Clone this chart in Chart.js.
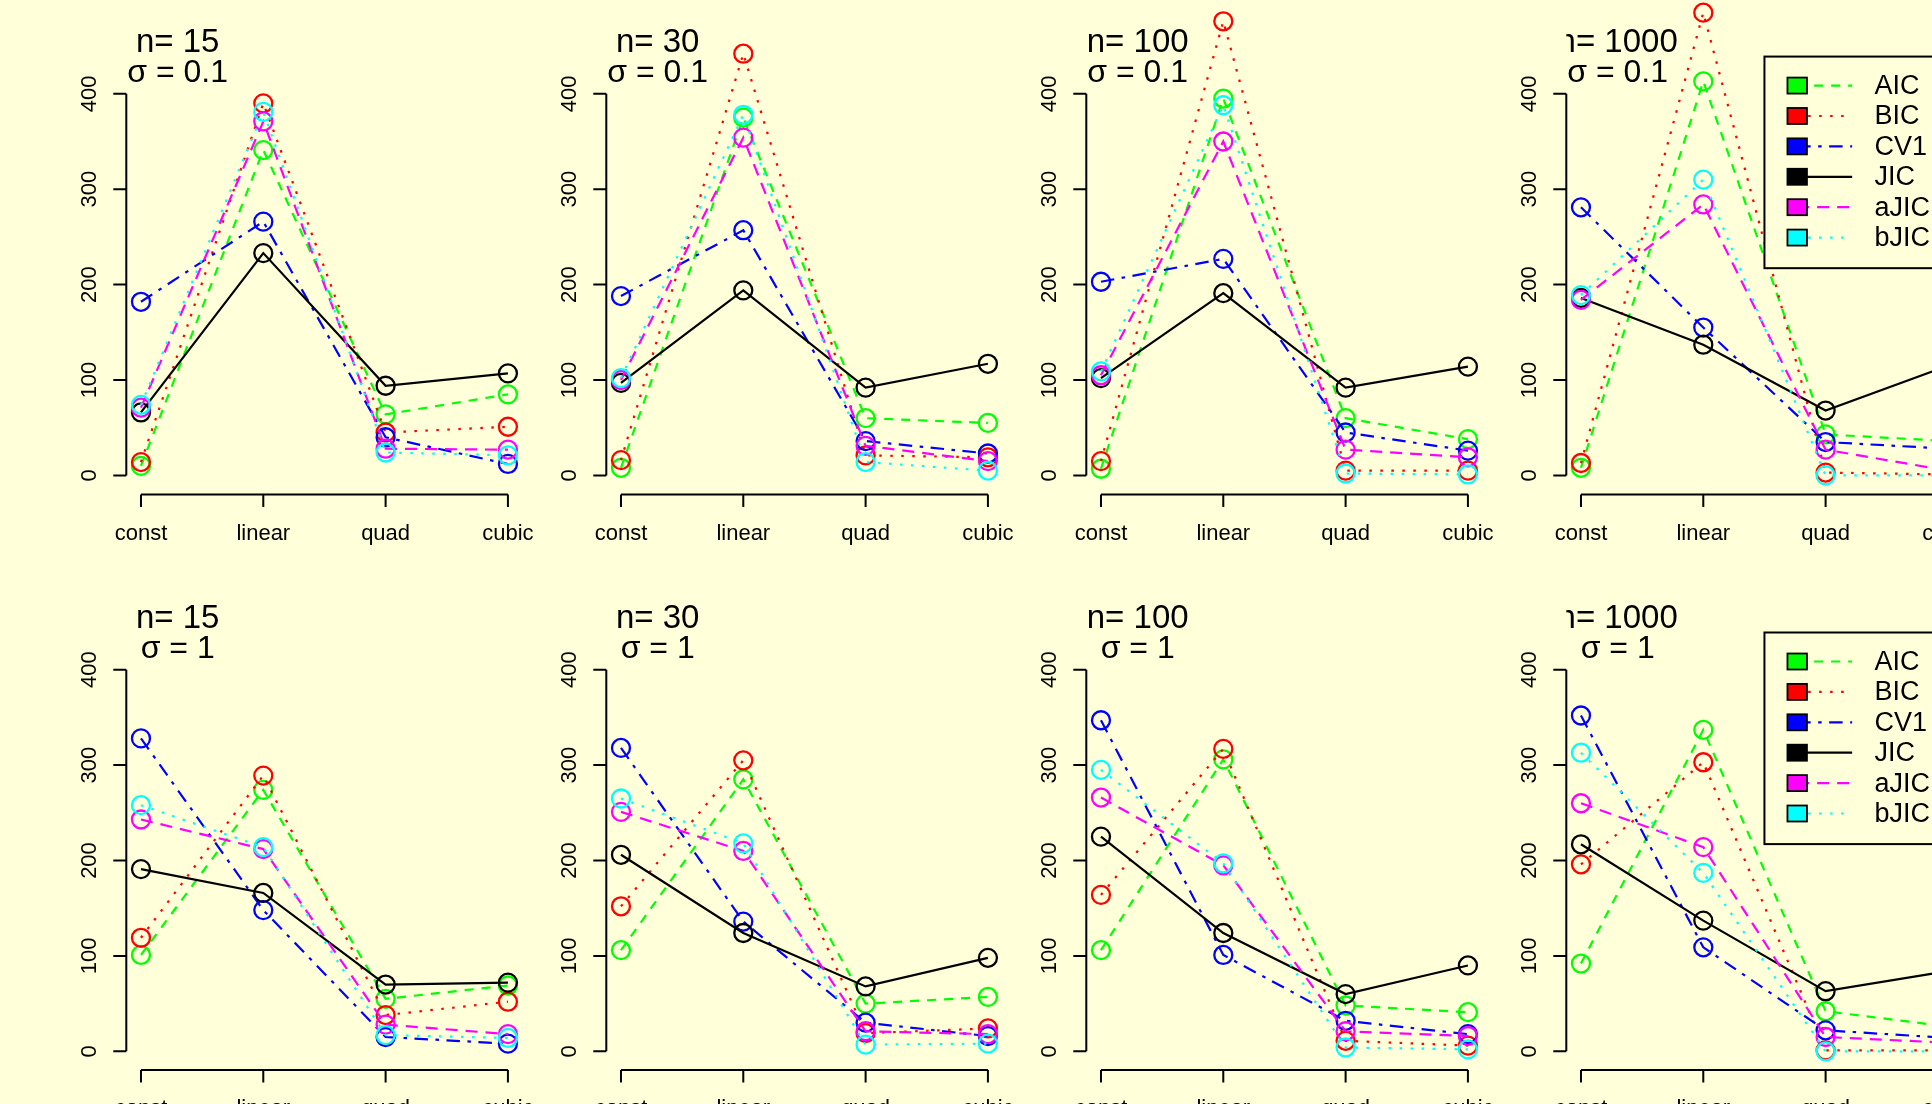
<!DOCTYPE html>
<html>
<head>
<meta charset="utf-8">
<script src="https://cdn.jsdelivr.net/npm/chart.js@4/dist/chart.umd.min.js"></script>
<style>
  body { margin: 0; width: 1932px; height: 1104px; overflow: hidden; background: #FFFFD9; position: relative; }
  canvas { position: absolute; }
</style>
</head>
<body>
<script>
const CATEGORIES = ['const', 'linear', 'quad', 'cubic'];
const METHODS = ['AIC', 'BIC', 'CV1', 'JIC', 'aJIC', 'bJIC'];
const N_VALUES = [15, 30, 100, 1000];
const SIGMAS = ['0.1', '1'];
const Y_TICKS = [0, 100, 200, 300, 400];

// one row per method (AIC, BIC, CV1, JIC, aJIC, bJIC), columns = const, linear, quad, cubic
const sig01_n15 = [
  [10, 341, 64, 85],
  [14, 390, 45, 51],
  [182, 266, 40, 12],
  [66, 233, 94, 107],
  [71, 371, 28, 27],
  [74, 381, 24, 21]
];
const sig01_n30 = [
  [8, 375, 60, 55],
  [16, 442, 21, 19],
  [188, 257, 36, 23],
  [97, 194, 92, 117],
  [100, 354, 31, 15],
  [102, 378, 14, 5]
];
const sig01_n100 = [
  [7, 395, 60, 38],
  [15, 476, 5, 5],
  [203, 227, 45, 26],
  [102, 191, 92, 114],
  [105, 350, 27, 19],
  [109, 388, 2, 1]
];
const sig01_n1000 = [
  [8, 413, 43, 36],
  [13, 485, 3, 1],
  [281, 155, 35, 28],
  [186, 137, 68, 115],
  [184, 284, 27, 5],
  [189, 310, 0, 0]
];
const sig1_n15 = [
  [101, 274, 55, 69],
  [119, 289, 38, 52],
  [328, 148, 15, 8],
  [191, 166, 70, 72],
  [243, 212, 28, 18],
  [258, 214, 17, 14]
];
const sig1_n30 = [
  [106, 285, 50, 57],
  [152, 305, 19, 24],
  [318, 136, 30, 16],
  [206, 124, 68, 98],
  [251, 210, 21, 18],
  [265, 218, 7, 8]
];
const sig1_n100 = [
  [106, 306, 48, 41],
  [164, 317, 11, 6],
  [347, 101, 32, 18],
  [225, 124, 60, 90],
  [266, 195, 21, 16],
  [295, 197, 4, 2]
];
const sig1_n1000 = [
  [92, 337, 42, 26],
  [196, 303, 1, 1],
  [352, 109, 22, 14],
  [217, 137, 63, 84],
  [260, 214, 15, 9],
  [313, 187, 0, 0]
];

const PANELS = [
  [sig01_n15, sig01_n30, sig01_n100, sig01_n1000],
  [sig1_n15, sig1_n30, sig1_n100, sig1_n1000]
];

// styles
const BG = '#FFFFD9';
const FONT = '"Liberation Sans", Arial, Helvetica, sans-serif';
const COLORS = ['#00ff00', '#ff0000', '#0000ff', '#000000', '#ff00ff', '#00ffff'];
const DASHES = [[9, 8], [2.5, 8.5], [13.5, 7.5, 3.5, 7.5], [], [12, 8], [2.5, 8.5]];

// layout of the two rows (canvas top, y range, room under the plot region)
const ROWS = [
  { top: 0, ymin: -20.1, ymax: 498.3, padBottom: 65.4 },
  { top: 560, ymin: -19.7, ymax: 515.0, padBottom: 49.9 }
];
const COL_W = 480;
const CANVAS_W = 560, CANVAS_H = 560;

// R-like axes, panel titles and legend
const rPanel = {
  id: 'rPanel',
  beforeDatasetsDraw(chart, args, o) {
    const { ctx, chartArea: a, scales: { x, y } } = chart;
    ctx.save();
    ctx.strokeStyle = '#000';
    ctx.lineWidth = 2;
    ctx.beginPath();
    ctx.moveTo(a.left, y.getPixelForValue(Y_TICKS[0]));
    ctx.lineTo(a.left, y.getPixelForValue(Y_TICKS[Y_TICKS.length - 1]));
    Y_TICKS.forEach(t => {
      const py = y.getPixelForValue(t);
      ctx.moveTo(a.left, py);
      ctx.lineTo(a.left - 13, py);
    });
    ctx.moveTo(x.getPixelForValue(1), a.bottom);
    ctx.lineTo(x.getPixelForValue(CATEGORIES.length), a.bottom);
    CATEGORIES.forEach((c, i) => {
      const px = x.getPixelForValue(i + 1);
      ctx.moveTo(px, a.bottom);
      ctx.lineTo(px, a.bottom + 12.5);
    });
    ctx.stroke();

    ctx.fillStyle = '#000';
    ctx.font = '22px ' + FONT;
    ctx.textAlign = 'center';
    ctx.textBaseline = 'alphabetic';
    CATEGORIES.forEach((c, i) => ctx.fillText(c, x.getPixelForValue(i + 1), a.bottom + 45));
    ctx.font = '22px ' + FONT;
    Y_TICKS.forEach(t => {
      ctx.save();
      ctx.translate(a.left - 30.5, y.getPixelForValue(t));
      ctx.rotate(-Math.PI / 2);
      ctx.fillText(String(t), 0, 0);
      ctx.restore();
    });

    // text inside the plot region is clipped to it, like in R
    ctx.beginPath();
    ctx.rect(a.left, a.top, a.right - a.left, a.bottom - a.top);
    ctx.clip();
    ctx.font = '33px ' + FONT;
    ctx.fillText('n= ' + o.n, x.getPixelForValue(1.3), y.getPixelForValue(444));
    ctx.font = '32px ' + FONT;
    ctx.fillText('\u03c3 = ' + o.sigma, x.getPixelForValue(1.3), y.getPixelForValue(412));
    ctx.restore();
  },
  afterDatasetsDraw(chart, args, o) {
    if (!o.legend) return;
    const { ctx, chartArea: a, scales: { x, y } } = chart;
    const left = x.getPixelForValue(2.5);
    const top = y.getPixelForValue(439);
    const w = a.right - left, h = 211.6;
    ctx.save();
    ctx.fillStyle = BG;
    ctx.fillRect(left, top, w, h);
    ctx.strokeStyle = '#000';
    ctx.lineWidth = 2;
    ctx.strokeRect(left, top, w, h);
    METHODS.forEach((m, k) => {
      const cy = top + 29 + k * 30.4;
      ctx.strokeStyle = COLORS[k];
      ctx.lineWidth = 2.2;
      ctx.setLineDash(DASHES[k]);
      ctx.beginPath();
      ctx.moveTo(left + 32.7, cy);
      ctx.lineTo(left + 87.7, cy);
      ctx.stroke();
      ctx.setLineDash([]);
      ctx.fillStyle = COLORS[k];
      ctx.fillRect(left + 23, cy - 8, 19.5, 16);
      ctx.strokeStyle = '#000';
      ctx.lineWidth = 1.8;
      ctx.strokeRect(left + 23, cy - 8, 19.5, 16);
      ctx.fillStyle = '#000';
      ctx.font = '27px ' + FONT;
      ctx.textAlign = 'left';
      ctx.textBaseline = 'middle';
      ctx.fillText(m, left + 110, cy + 1);
    });
    ctx.restore();
  }
};

PANELS.forEach((rowPanels, r) => {
  const row = ROWS[r];
  rowPanels.forEach((values, c) => {
    const canvas = document.createElement('canvas');
    canvas.width = CANVAS_W;
    canvas.height = CANVAS_H;
    canvas.style.left = (COL_W * c) + 'px';
    canvas.style.top = row.top + 'px';
    document.body.appendChild(canvas);

    new Chart(canvas.getContext('2d'), {
      type: 'line',
      data: {
        datasets: METHODS.map((m, k) => ({
          label: m,
          data: values[k].map((v, i) => ({ x: i + 1, y: v })),
          borderColor: COLORS[k],
          borderWidth: 2.2,
          borderDash: DASHES[k],
          fill: false,
          tension: 0,
          pointStyle: 'circle',
          pointRadius: 9,
          pointHoverRadius: 9,
          pointBorderWidth: 2.3,
          pointBorderColor: COLORS[k],
          pointBackgroundColor: 'rgba(0,0,0,0)',
          order: METHODS.length - k,
          clip: false
        }))
      },
      options: {
        responsive: false,
        animation: false,
        events: [],
        layout: {
          autoPadding: false,
          padding: { left: 126.3, right: 37.4, top: 0, bottom: row.padBottom }
        },
        scales: {
          x: { type: 'linear', min: 0.88, max: 4.12, display: false },
          y: { type: 'linear', min: row.ymin, max: row.ymax, display: false }
        },
        plugins: {
          legend: { display: false },
          tooltip: { enabled: false },
          rPanel: { n: N_VALUES[c], sigma: SIGMAS[r], legend: c === N_VALUES.length - 1 }
        }
      },
      plugins: [rPanel]
    });
  });
});
</script>
</body>
</html>
